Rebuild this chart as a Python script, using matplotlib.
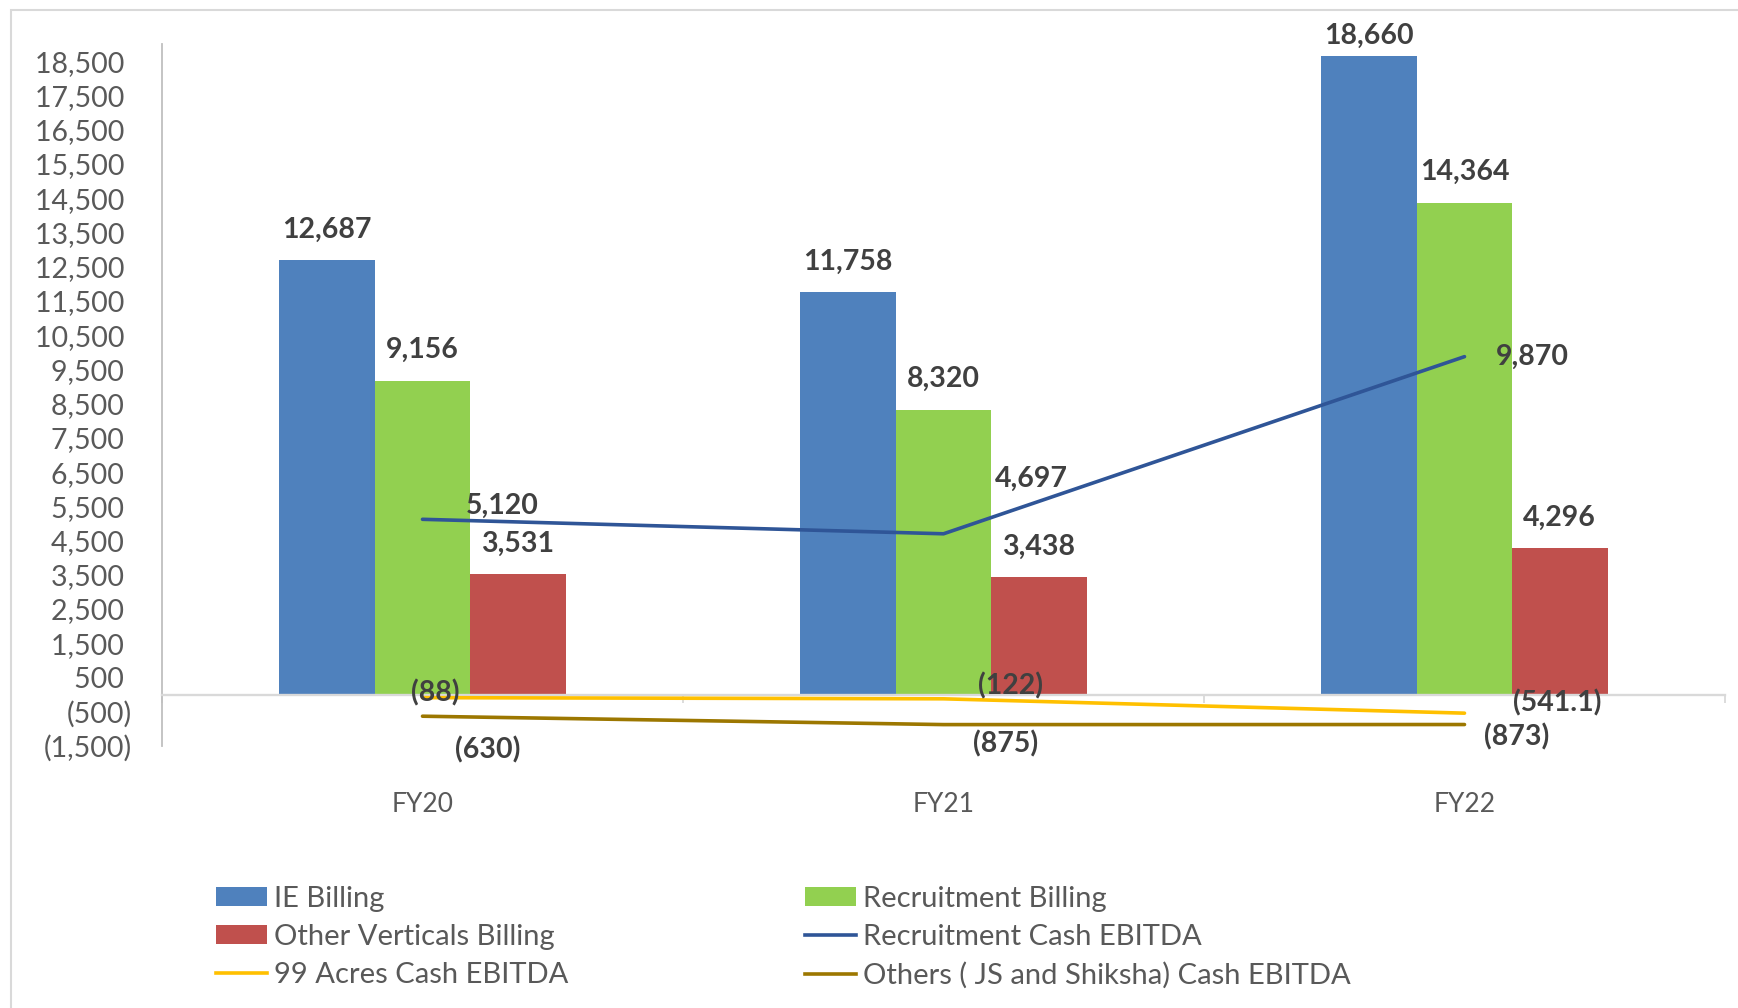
import matplotlib
matplotlib.use("Agg")
import matplotlib.pyplot as plt
from matplotlib.patches import Patch, Rectangle
from matplotlib.lines import Line2D
import numpy as np

plt.rcParams['font.family'] = ['Lato', 'DejaVu Sans']

# ---- data ----
categories = ["FY20", "FY21", "FY22"]
ie_billing = [12687, 11758, 18660]
recruitment_billing = [9156, 8320, 14364]
other_verticals_billing = [3531, 3438, 4296]
recruitment_ebitda = [5120, 4697, 9870]
acres_ebitda = [-88, -122, -541.1]
others_ebitda = [-630, -875, -873]
y_ticks = list(range(-1500, 19000, 1000))

# ---- styling ----
C_BLUE = "#4F81BD"
C_GREEN = "#92D050"
C_RED = "#C0504D"
C_LBLUE = "#2F5597"
C_YELLOW = "#FFC000"
C_BROWN = "#9C7700"
C_LABEL = "#404040"
C_TICK = "#595959"

W, H, DPI = 1738, 1008, 100
fig = plt.figure(figsize=(W / DPI, H / DPI), dpi=DPI)
# pixel layout of plot area
L, R, T, B = 162, 1725, 44, 746
ax = fig.add_axes([L / W, 1 - B / H, (R - L) / W, (B - T) / H])

x = np.arange(len(categories))
bw = 0.183
bars_ie = ax.bar(x - bw, ie_billing, bw, color=C_BLUE, zorder=2)
bars_rb = ax.bar(x, recruitment_billing, bw, color=C_GREEN, zorder=2)
bars_ov = ax.bar(x + bw, other_verticals_billing, bw, color=C_RED, zorder=2)

ax.plot(x, recruitment_ebitda, color=C_LBLUE, lw=2.6, zorder=4, solid_capstyle='round')
ax.plot(x, acres_ebitda, color=C_YELLOW, lw=2.6, zorder=4, solid_capstyle='round')
ax.plot(x, others_ebitda, color=C_BROWN, lw=2.6, zorder=4, solid_capstyle='round')

ax.set_xlim(-0.5, 2.5)
ax.set_ylim(-1500, 19000)

def fmt(v):
    if v < 0:
        s = f"{-v:,.1f}" if abs(v - round(v)) > 1e-9 else f"{-v:,.0f}"
        return f"({s})"
    return f"{v:,.0f}"

ax.set_yticks(y_ticks)
ax.set_yticklabels([fmt(v) if v < 0 else fmt(v) + " " for v in y_ticks],
                   fontsize=20.5, color=C_TICK)
ax.tick_params(axis='y', length=0, pad=22)

# spines
for s in ['top', 'right']:
    ax.spines[s].set_visible(False)
ax.spines['left'].set_color("#BFBFBF")
ax.spines['left'].set_linewidth(1.3)
ax.spines['bottom'].set_position(('data', 0))
ax.spines['bottom'].set_color("#D9D9D9")
ax.spines['bottom'].set_linewidth(1.7)
ax.spines['bottom'].set_zorder(3)
ax.set_xticks(x)
ax.set_xticklabels([])
ax.tick_params(axis='x', which='major', length=0)
ax.set_xticks([-0.5, 0.5, 1.5, 2.5], minor=True)
ax.tick_params(axis='x', which='minor', length=6, width=1.3, color="#D9D9D9", direction='out')

# category labels
for xi, c in zip(x, categories):
    ax.text(xi, -(804 - B) / (B - T), c, transform=ax.get_xaxis_transform(),
            ha='center', va='center', fontsize=19, color=C_TICK)

PX = 72.0 / DPI  # points per pixel

# bar labels (pixel offset above bar top)
bar_label_off = [[30, 30, 20], [31, 31, 31], [30, 30, 30]]
for series, vals, offs in zip([bars_ie, bars_rb, bars_ov],
                              [ie_billing, recruitment_billing, other_verticals_billing],
                              bar_label_off):
    for rect, v, o in zip(series, vals, offs):
        ax.annotate(fmt(v), (rect.get_x() + rect.get_width() / 2, v),
                    xytext=(0, o * PX), textcoords='offset points',
                    ha='center', va='center', fontsize=20.5, fontweight='bold',
                    color=C_LABEL, zorder=5)

# line labels: (dx, dy) in pixels, +dy up
rec_off = [(43, 13), (51, 55), (31, 0)]
for xi, v, (dx, dy) in zip(x, recruitment_ebitda, rec_off):
    ax.annotate(fmt(v), (xi, v), xytext=(dx * PX, dy * PX), textcoords='offset points',
                ha='left', va='center', fontsize=20.5, fontweight='bold',
                color=C_LABEL, zorder=5)
acres_off = [(13, 5), (67, 13), (93, 10)]
for xi, v, (dx, dy) in zip(x, acres_ebitda, acres_off):
    ax.annotate(fmt(v), (xi, v), xytext=(dx * PX, dy * PX), textcoords='offset points',
                ha='center', va='center', fontsize=20.5, fontweight='bold',
                color=C_LABEL, zorder=5)
others_off = [(65, -34), (62, -19), (52, -12)]
for xi, v, (dx, dy) in zip(x, others_ebitda, others_off):
    ax.annotate(fmt(v), (xi, v), xytext=(dx * PX, dy * PX), textcoords='offset points',
                ha='center', va='center', fontsize=20.5, fontweight='bold',
                color=C_LABEL, zorder=5)

# legend: two columns
col1 = [Patch(facecolor=C_BLUE), Patch(facecolor=C_RED), Line2D([], [], color=C_YELLOW, lw=2.6)]
lab1 = ["IE Billing", "Other Verticals Billing", "99 Acres Cash EBITDA"]
col2 = [Patch(facecolor=C_GREEN), Line2D([], [], color=C_LBLUE, lw=2.6), Line2D([], [], color=C_BROWN, lw=2.6)]
lab2 = ["Recruitment Billing", "Recruitment Cash EBITDA", "Others ( JS and Shiksha) Cash EBITDA"]
leg_kw = dict(loc='upper left', frameon=False, fontsize=21, handlelength=1.75,
              handleheight=0.6, handletextpad=0.24, labelspacing=0.41,
              borderpad=0, borderaxespad=0, labelcolor=C_TICK)
lg1 = fig.legend(col1, lab1, bbox_to_anchor=(216 / W, 1 - 886 / H), **leg_kw)
lg2 = fig.legend(col2, lab2, bbox_to_anchor=(805 / W, 1 - 886 / H), **leg_kw)

# outer chart border
fig.patches.append(Rectangle((11 / W, -0.05), 1.2, 1 - 10 / H + 0.05,
                             transform=fig.transFigure, fill=False,
                             edgecolor="#D9D9D9", lw=1.5, zorder=0))

fig.savefig("out.png", dpi=DPI)
